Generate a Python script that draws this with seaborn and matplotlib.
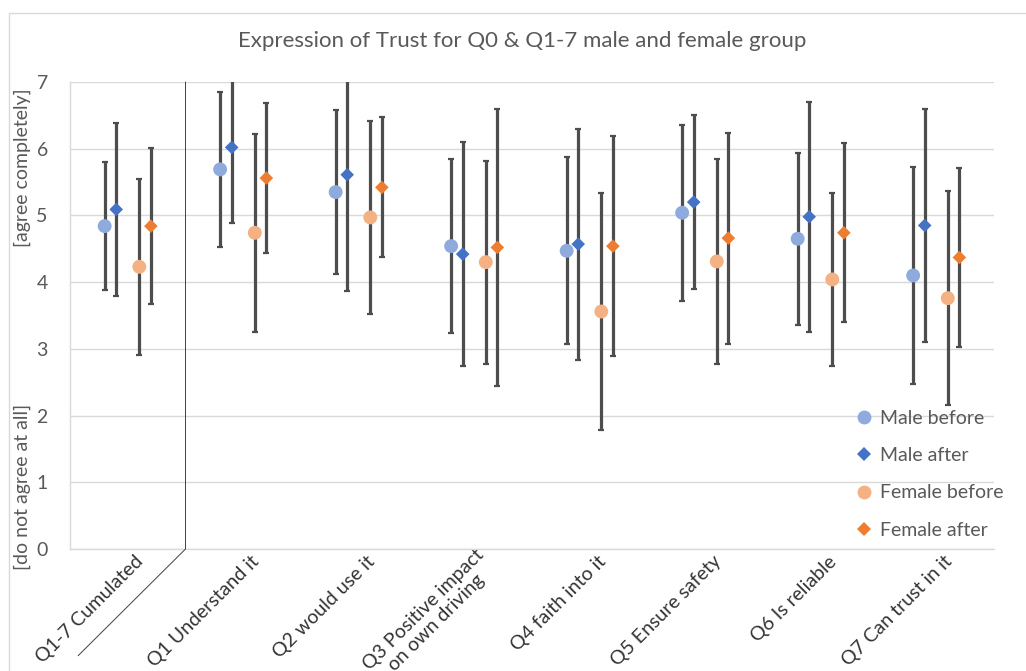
import numpy as np
import pandas as pd
import matplotlib.pyplot as plt
import matplotlib.transforms as mtrans
from matplotlib.patches import Rectangle
import seaborn as sns

categories = ['Q1-7 Cumulated', 'Q1 Understand it', 'Q2 would use it',
              'Q3 Positive impact\non own driving', 'Q4 faith into it',
              'Q5 Ensure safety', 'Q6 Is reliable', 'Q7 Can trust in it']

series = ['Male before', 'Male after', 'Female before', 'Female after']

# means
male_before = [4.84, 5.69, 5.35, 4.54, 4.47, 5.04, 4.65, 4.10]
male_after = [5.09, 6.02, 5.61, 4.42, 4.57, 5.20, 4.98, 4.85]
female_before = [4.23, 4.74, 4.97, 4.30, 3.56, 4.31, 4.04, 3.76]
female_after = [4.84, 5.56, 5.42, 4.52, 4.54, 4.66, 4.74, 4.37]

# standard deviations (error bar half lengths)
male_before_sd = [0.96, 1.16, 1.23, 1.30, 1.40, 1.32, 1.29, 1.63]
male_after_sd = [1.30, 1.14, 1.74, 1.68, 1.73, 1.31, 1.72, 1.75]
female_before_sd = [1.32, 1.48, 1.45, 1.52, 1.77, 1.53, 1.30, 1.60]
female_after_sd = [1.17, 1.12, 1.05, 2.07, 1.65, 1.58, 1.34, 1.34]

means = [male_before, male_after, female_before, female_after]
sds = [male_before_sd, male_after_sd, female_before_sd, female_after_sd]
offsets = [-0.2, -0.1, 0.1, 0.2]

colors = {'Male before': '#8FAADC', 'Male after': '#4472C4',
          'Female before': '#F4B183', 'Female after': '#ED7D31'}
markers = {'Male before': 'o', 'Male after': 'D',
           'Female before': 'o', 'Female after': 'D'}
sizes = {'Male before': 100, 'Male after': 48,
         'Female before': 100, 'Female after': 48}

rows = []
for name, m, sd, off in zip(series, means, sds, offsets):
    for i, (v, e) in enumerate(zip(m, sd)):
        rows.append({'series': name, 'x': i + off, 'mean': v, 'sd': e})
df = pd.DataFrame(rows)

sns.set_theme(style='white')
plt.rcParams['font.family'] = ['Lato', 'DejaVu Sans']
txt = '#595959'

fig = plt.figure(figsize=(10.26, 6.71), dpi=100)
ax = fig.add_axes([70 / 1026, 1 - 549 / 671, 924 / 1026, 467 / 671])

ax.errorbar(df['x'], df['mean'], yerr=df['sd'], fmt='none', ecolor='#4D4D4D',
            elinewidth=2.3, capsize=2.2, capthick=1.6, zorder=2)

sns.scatterplot(data=df, x='x', y='mean', hue='series', style='series', size='series',
                palette=colors, markers=markers, sizes=sizes, hue_order=series,
                linewidth=0, zorder=3, ax=ax)

ax.set_xlim(-0.5, len(categories) - 0.5)
ax.set_ylim(0, 7)
ax.set_yticks(range(8))
ax.set_xticks(range(len(categories)))
ax.set_xticklabels(categories, rotation=45, ha='right', va='center',
                   rotation_mode='anchor', multialignment='center', linespacing=1.1)
ax.set_xlabel('')
ax.set_ylabel('')
ax.yaxis.grid(True, color='#D9D9D9', linewidth=1)
ax.xaxis.grid(False)
ax.tick_params(axis='y', length=0, pad=16, labelsize=14, labelcolor=txt)
ax.tick_params(axis='x', length=0, pad=7, labelsize=14, labelcolor='#333333')
shift = mtrans.ScaledTranslation(13 / 100, 0, fig.dpi_scale_trans)
for lab in ax.get_xticklabels():
    lab.set_transform(lab.get_transform() + shift)

for s in ['top', 'right']:
    ax.spines[s].set_visible(False)
for s in ['left', 'bottom']:
    ax.spines[s].set_color('#D9D9D9')
    ax.spines[s].set_linewidth(1)

# separator between cumulated and single questions
ax.plot([0.5, 0.5, -0.43], [7, 0, -1.6], color='#404040', linewidth=0.7,
        clip_on=False, zorder=4)

ax.text(-0.052, 0.987, '[agree completely]', transform=ax.transAxes, rotation=90,
        ha='center', va='top', fontsize=14, color=txt)
ax.text(-0.052, -0.045, '[do not agree at all]', transform=ax.transAxes, rotation=90,
        ha='center', va='bottom', fontsize=14, color=txt)

fig.text(522 / 1026, 1 - 41 / 671, 'Expression of Trust for Q0 & Q1-7 male and female group',
         ha='center', va='center', fontsize=16, color=txt)

handles, labels = ax.get_legend_handles_labels()
ax.legend(handles, labels, loc='upper left', bbox_to_anchor=(841 / 1026, 1 - 396 / 671),
          bbox_transform=fig.transFigure, frameon=False, fontsize=14,
          labelcolor=txt, handlelength=1.0, handletextpad=0.3, labelspacing=1.05,
          borderpad=0.2)

fig.patches.append(Rectangle((9 / 1026, -0.05), 1.2, 1 - 13 / 671 + 0.05, fill=False,
                             edgecolor='#D9D9D9', linewidth=1, transform=fig.transFigure))

fig.savefig('out.png', dpi=100)
